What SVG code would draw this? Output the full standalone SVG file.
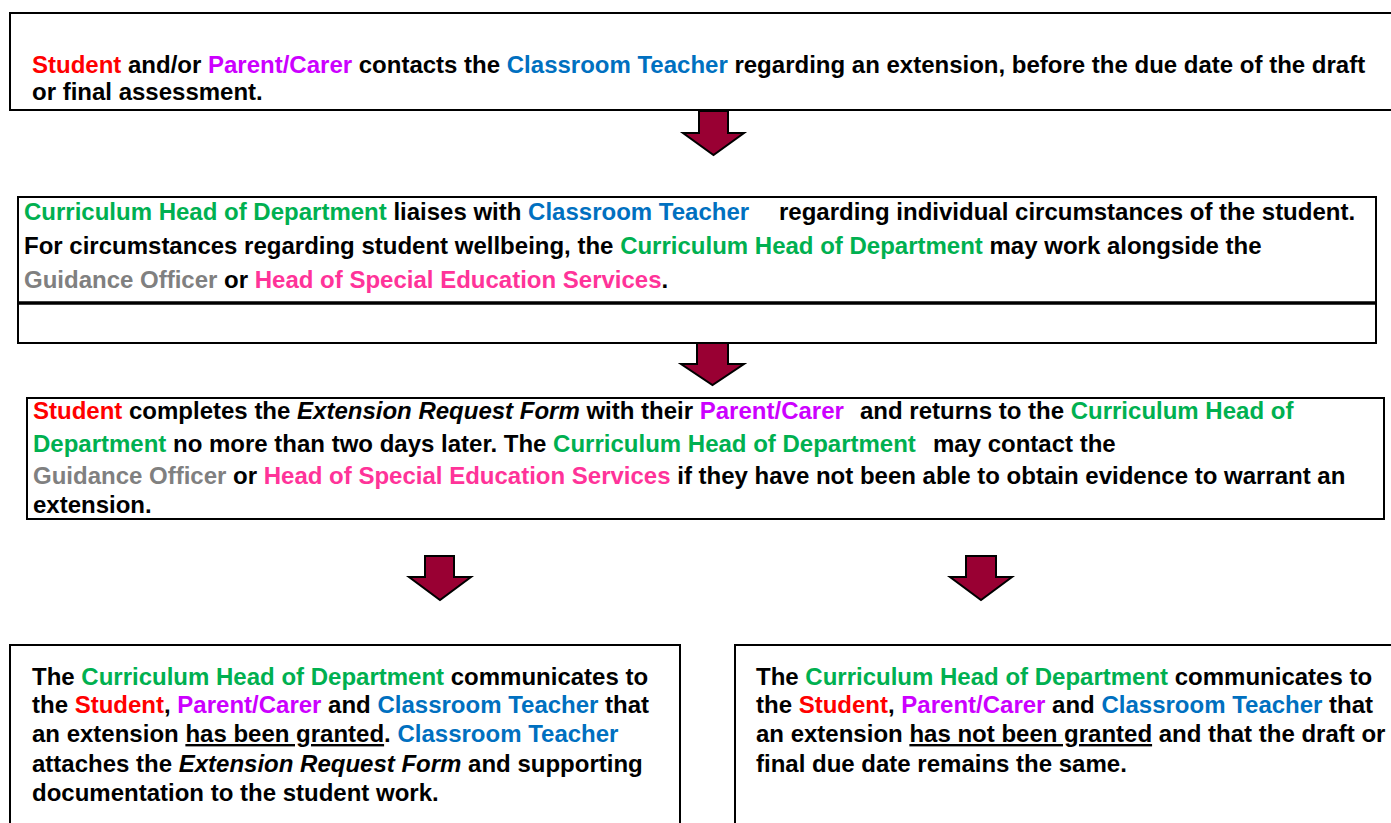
<svg xmlns="http://www.w3.org/2000/svg" width="1391" height="823" viewBox="0 0 1391 823">
<defs>
<style>
text { font-family: "Liberation Sans", Arial, sans-serif; font-weight: bold; font-size: 24px; fill: #000; white-space: pre; }
.red { fill: #FF0000; }
.pur { fill: #CC00FF; }
.blu { fill: #0070C0; }
.grn { fill: #00B050; }
.gry { fill: #808080; }
.pnk { fill: #FF3399; }
.it { font-style: italic; }
.ul { text-decoration: underline; }
.box { fill: #fff; stroke: #000; stroke-width: 2; }
.arr { fill: #990033; stroke: #000; stroke-width: 2; stroke-linejoin: miter; }
</style>
</defs>
<rect x="0" y="0" width="1391" height="823" fill="#fff"/>

<g id="n1">
<rect class="box" x="10" y="13" width="1400" height="97"/>
<text x="32" y="73"><tspan class="red">Student</tspan> and/or <tspan class="pur">Parent/Carer</tspan> contacts the <tspan class="blu">Classroom Teacher</tspan> regarding an extension, before the due date of the draft</text>
<text x="32" y="100">or final assessment.</text>
</g>

<g id="n2">
<rect class="box" x="18" y="197" width="1358" height="106"/>
<rect class="box" x="18" y="303" width="1358" height="40"/>
<line x1="18" y1="303" x2="1376" y2="303" stroke="#000" stroke-width="3.5"/>
<text x="24" y="220"><tspan class="grn">Curriculum Head of Department</tspan> liaises with <tspan class="blu">Classroom Teacher</tspan><tspan x="779">regarding individual circumstances of the student.</tspan></text>
<text x="24" y="254">For circumstances regarding student wellbeing, the <tspan class="grn">Curriculum Head of Department</tspan> may work alongside the</text>
<text x="24" y="288"><tspan class="gry">Guidance Officer</tspan> or <tspan class="pnk">Head of Special Education Services</tspan>.</text>
</g>

<g id="n3">
<rect class="box" x="27" y="398" width="1357" height="121"/>
<text x="33" y="419"><tspan class="red">Student</tspan> completes the <tspan class="it">Extension Request Form</tspan> with their <tspan class="pur">Parent/Carer</tspan><tspan x="860">and returns to the </tspan><tspan class="grn">Curriculum Head of</tspan></text>
<text x="33" y="452"><tspan class="grn">Department</tspan> no more than two days later. The <tspan class="grn">Curriculum Head of Department</tspan><tspan x="933">may contact the</tspan></text>
<text x="33" y="484"><tspan class="gry">Guidance Officer</tspan> or <tspan class="pnk">Head of Special Education Services</tspan> if they have not been able to obtain evidence to warrant an</text>
<text x="33" y="513">extension.</text>
</g>

<g id="n4">
<rect class="box" x="10" y="645" width="670" height="200"/>
<text x="32" y="685">The <tspan class="grn">Curriculum Head of Department</tspan> communicates to</text>
<text x="32" y="713">the <tspan class="red">Student</tspan>, <tspan class="pur">Parent/Carer</tspan> and <tspan class="blu">Classroom Teacher</tspan> that</text>
<text x="32" y="742">an extension <tspan class="ul">has been granted</tspan>. <tspan class="blu">Classroom Teacher</tspan></text>
<text x="32" y="772">attaches the <tspan class="it">Extension Request Form</tspan> and supporting</text>
<text x="32" y="801">documentation to the student work.</text>
</g>

<g id="n5">
<rect class="box" x="735" y="645" width="700" height="200"/>
<text x="756" y="685">The <tspan class="grn">Curriculum Head of Department</tspan> communicates to</text>
<text x="756" y="713">the <tspan class="red">Student</tspan>, <tspan class="pur">Parent/Carer</tspan> and <tspan class="blu">Classroom Teacher</tspan> that</text>
<text x="756" y="742">an extension <tspan class="ul">has not been granted</tspan> and that the draft or</text>
<text x="756" y="772">final due date remains the same.</text>
</g>

<g id="connectors">
<polygon class="arr" points="699,111 728,111 728,133 744,133 713.5,155 683,133 699,133"/>
<polygon class="arr" points="697,343 728,343 728,364 744,364 712.5,385 681,364 697,364"/>
<polygon class="arr" points="425,556 454,556 454,577 471,577 440,600 409,577 425,577"/>
<polygon class="arr" points="966,556 996,556 996,577 1012,577 981,600 950,577 966,577"/>
</g>
</svg>
